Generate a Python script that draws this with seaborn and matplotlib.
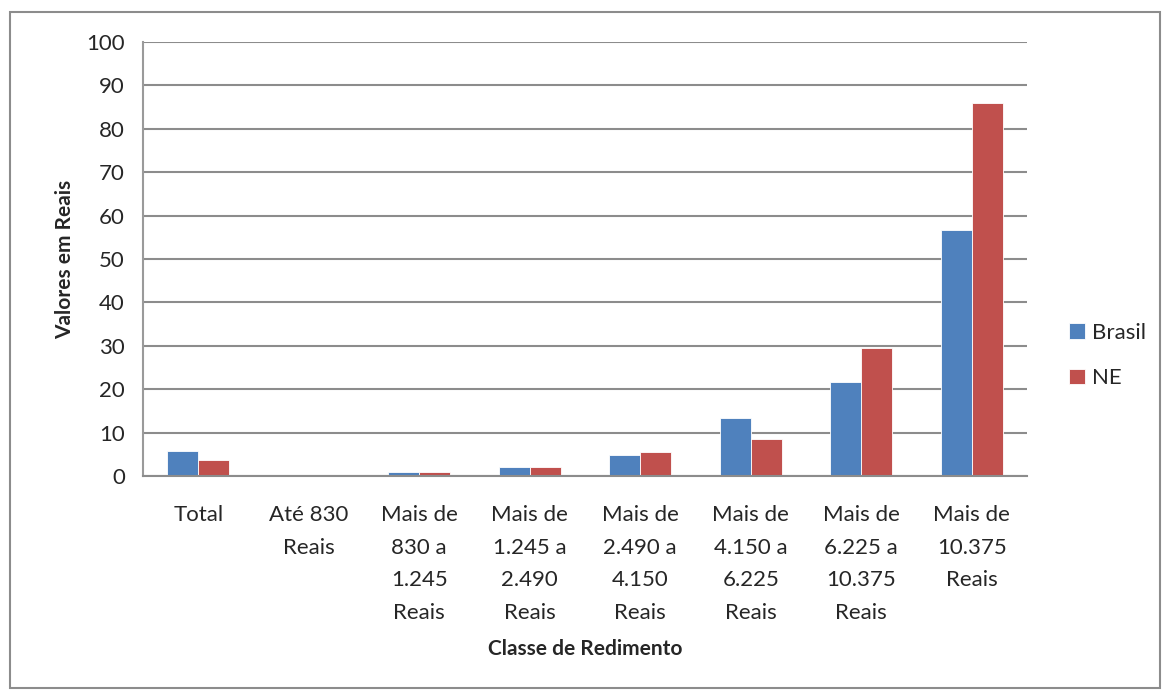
import pandas as pd
import matplotlib
matplotlib.use('Agg')
import matplotlib.pyplot as plt
import seaborn as sns
from matplotlib.patches import Rectangle

classes = ['Total', 'Até 830\nReais', 'Mais de\n830 a\n1.245\nReais', 'Mais de\n1.245 a\n2.490\nReais',
           'Mais de\n2.490 a\n4.150\nReais', 'Mais de\n4.150 a\n6.225\nReais', 'Mais de\n6.225 a\n10.375\nReais',
           'Mais de\n10.375\nReais']
brasil = [5.8, 0.3, 0.85, 2.1, 4.9, 13.4, 21.7, 56.7]
ne = [3.8, 0.2, 0.85, 2.1, 5.5, 8.5, 29.4, 85.9]
series = ['Brasil', 'NE']
colors = ['#4F81BD', '#C0504D']

df = pd.DataFrame({'classe': classes * 2,
                   'valor': brasil + ne,
                   'serie': [series[0]] * len(classes) + [series[1]] * len(classes)})

sns.set_style('white')
plt.rcParams['font.family'] = ['Lato', 'DejaVu Sans']

fig = plt.figure(figsize=(11.63, 6.9), dpi=100)
ax = fig.add_axes([143 / 1163, 1 - 476 / 690, (1027 - 143) / 1163, (476 - 42) / 690])

sns.barplot(data=df, x='classe', y='valor', hue='serie', palette=colors,
            width=0.56, ax=ax, edgecolor='white', linewidth=0.6, saturation=1)

ax.set_ylim(0, 100)
ax.set_yticks(range(0, 101, 10))
ax.set_xticks(range(len(classes)))
ax.set_xticklabels(classes, fontsize=16, linespacing=1.78)
ax.yaxis.grid(True, color='#8c8c8c', linewidth=1.5)
ax.set_axisbelow(True)
for s in ['top', 'right']:
    ax.spines[s].set_visible(False)
ax.spines['left'].set_color('#9a9a9a')
ax.spines['bottom'].set_color('#8c8c8c')
ax.spines['left'].set_linewidth(1.5)
ax.spines['bottom'].set_linewidth(1.5)
ax.tick_params(axis='y', length=7, color='#8c8c8c', width=1.5, labelsize=16, pad=6)
ax.tick_params(axis='x', length=0, pad=21)

ax.set_xlabel('Classe de Redimento', fontsize=15, fontweight='bold', labelpad=12)
ax.set_ylabel('Valores em Reais', fontsize=15, fontweight='bold', labelpad=8)

leg = ax.legend(loc='center left', bbox_to_anchor=(1.0475, 0.278), frameon=False,
                fontsize=16, handlelength=0.7, handleheight=0.7, labelspacing=1.15,
                handletextpad=0.35, borderpad=0, borderaxespad=0)

fig.patches.append(Rectangle((10 / 1163, 2 / 690), 1150 / 1163, 676 / 690,
                             transform=fig.transFigure, fill=False,
                             edgecolor='#8c8c8c', linewidth=1.5))

fig.savefig('out.png', dpi=100)
